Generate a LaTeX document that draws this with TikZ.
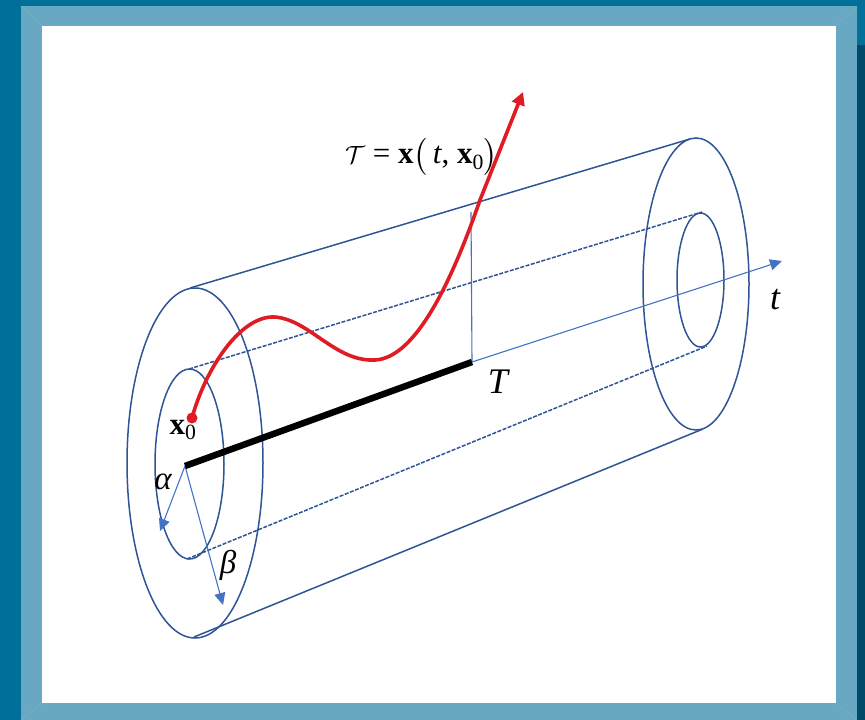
\documentclass[tikz,border=0pt]{standalone}
\usepackage{amsmath, amssymb}
\usepackage{fontspec}
\setmainfont{Liberation Serif}
\usepackage{tikz}
\usetikzlibrary{arrows.meta}
\definecolor{bandL}{HTML}{00709B}
\definecolor{bandR}{HTML}{004A69}
\definecolor{frameBlue}{HTML}{68A8C3}
\definecolor{frameEdge}{HTML}{76B0C9}
\definecolor{tubeBlue}{HTML}{2F5597}
\definecolor{axisBlue}{HTML}{4472C4}
\definecolor{pathRed}{HTML}{E01B24}
\tikzset{
    tube/.style={tubeBlue, line width=1.5pt},
    hidden/.style={tubeBlue, line width=1.5pt, dash pattern=on 4pt off 1.5pt},
    axisline/.style={axisBlue, line width=1.1pt, -{Triangle[length=12pt,width=11pt]}},
    lab/.style={font=\fontsize{36}{36}\selectfont\itshape, inner sep=0pt}
}
\begin{document}
\begin{tikzpicture}[x=1pt, y=-1pt, >=stealth]
        \useasboundingbox (0,0) rectangle (865,720);
        % frame
        \fill[bandL] (0,0) rectangle (865,720);
        \fill[bandR] (857,45) rectangle (865,720);
        \fill[frameBlue] (21,6) rectangle (857,720);
        \draw[frameEdge, line width=0.6pt] (21,6) -- (42,26) (857,6) -- (836,26) (21,720) -- (42,703) (857,720) -- (836,703);
        \fill[white] (42,26) rectangle (836,703);
        % corners of the tube
        \coordinate (OutTopL) at (190,288);
        \coordinate (OutTopR) at (690,139);
        \coordinate (OutBotL) at (194,637);
        \coordinate (OutBotR) at (703,429);
        \coordinate (InTopL) at (189,369);
        \coordinate (InTopR) at (702,212);
        \coordinate (InBotL) at (187,559);
        \coordinate (InBotR) at (707,346);
        \coordinate (Origin) at (185,466);
        \coordinate (End) at (472,362);
        \coordinate (EndUp) at (471,212);
        \coordinate (AxisTip) at (782,261);
        \coordinate (AlphaTip) at (160,531);
        \coordinate (BetaTip) at (223,605);
        \coordinate (Start) at (192,418);
        \coordinate (RedTip) at (523,92);
        % ends
        \draw[tube] (195,463) ellipse (68 and 175);
        \draw[tube] (189.5,464) ellipse (34.5 and 95);
        \draw[tube] (696,284) ellipse (53 and 146);
        \draw[tube] (700.5,280) ellipse (23.5 and 67);
        % sides
        \draw[tube] (OutTopL) -- (OutTopR);
        \draw[tube] (OutBotL) -- (OutBotR);
        \draw[hidden] (InTopL) -- (InTopR);
        \draw[hidden] (InBotL) -- (InBotR);
        % axis
        \draw[axisline, -] (End) -- (EndUp);
        \draw[axisline] (End) -- (AxisTip);
        \draw[axisline] (Origin) -- (AlphaTip);
        \draw[axisline] (Origin) -- (BetaTip);
        \draw[black, line width=6.5pt] (Origin) -- (End);
        % trajectory
        \draw[pathRed, line width=3.6pt, -{Triangle[length=13pt,width=13pt]}] (Start) .. controls (205,370) and (240,315) .. (275,317) .. controls (310,320) and (335,362) .. (375,360) .. controls (418,358) and (455,272) .. (480,200) -- (RedTip);
        \fill[pathRed] (Start) circle (5.5);
        % labels
        \node[lab] (labT) at (498,382) {T};
        \node[lab] (labt) at (775,300) {t};
        \node[lab, font=\fontsize{33}{33}\selectfont\itshape] (labAlpha) at (163,482) {α};
        \node[lab, font=\fontsize{33}{33}\selectfont\itshape] (labBeta) at (228,565) {β};
        \node[lab, font=\fontsize{31}{31}\selectfont\upshape] (labX) at (183,430) {\textbf{x}$_{\text{0}}$};
        \node[lab, font=\fontsize{31}{31}\selectfont\upshape, anchor=west] (labTraj) at (345,157) {\fontsize{36}{36}\selectfont$\mathcal{T}$\fontsize{31}{31}\selectfont\ = \textbf{x}$\bigl($\,\textit{t}, \textbf{x}$_{\text{0}}\bigr)$};
    \end{tikzpicture}
\end{document}
